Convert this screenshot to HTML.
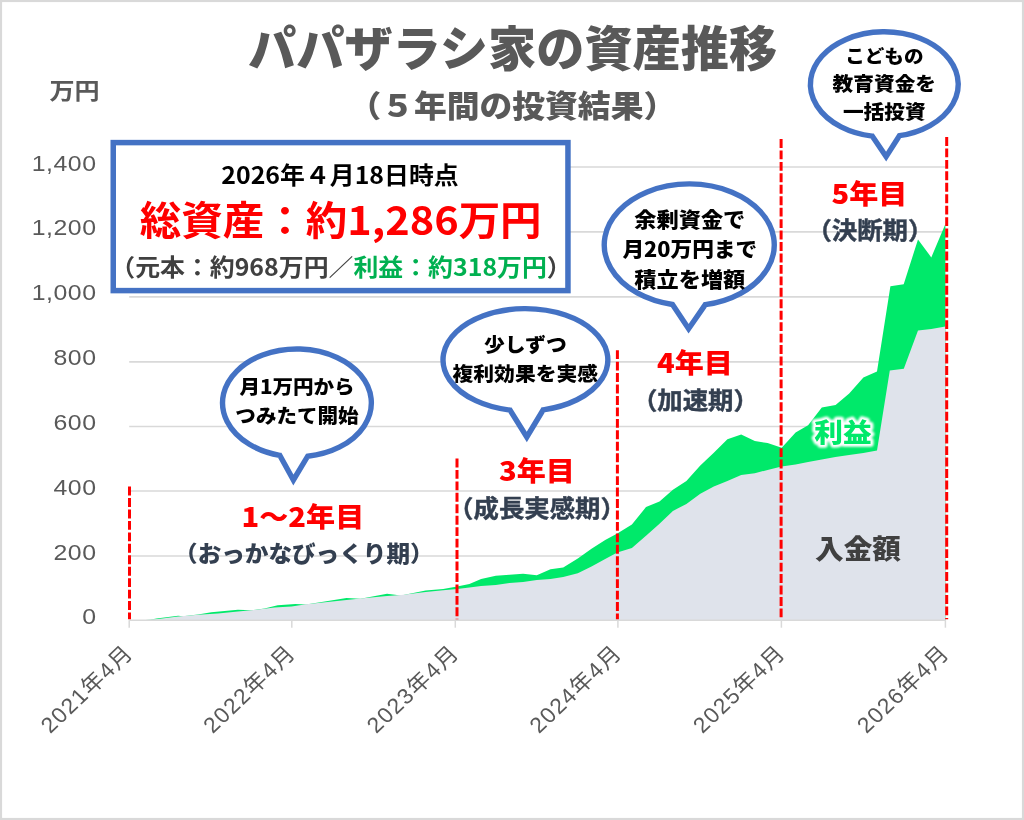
<!DOCTYPE html>
<html lang="ja"><head><meta charset="utf-8"><title>パパザラシ家の資産推移</title>
<style>
html,body{margin:0;padding:0;background:#fff;}
body{width:1024px;height:820px;overflow:hidden;}
svg{display:block;will-change:transform;}
text{font-family:"Noto Sans CJK JP","Liberation Sans",sans-serif;}
.ax{font-family:"Liberation Sans","Noto Sans CJK JP",sans-serif;}
.b{font-weight:700;}.k{font-weight:900;}
</style></head><body>
<svg width="1024" height="820" viewBox="0 0 1024 820">
<defs><filter id="glow" x="-30%" y="-30%" width="160%" height="160%"><feGaussianBlur stdDeviation="1.1"/></filter></defs>
<rect x="0" y="0" width="1024" height="820" fill="#D9D9D9"/>
<rect x="2.1" y="2.1" width="1019.8" height="815.8" fill="#fff"/>
<line x1="129.2" y1="556.0" x2="945.4" y2="556.0" stroke="#D9D9D9" stroke-width="1.7"/>
<line x1="129.2" y1="491.0" x2="945.4" y2="491.0" stroke="#D9D9D9" stroke-width="1.7"/>
<line x1="129.2" y1="426.5" x2="945.4" y2="426.5" stroke="#D9D9D9" stroke-width="1.7"/>
<line x1="129.2" y1="361.8" x2="945.4" y2="361.8" stroke="#D9D9D9" stroke-width="1.7"/>
<line x1="129.2" y1="296.8" x2="945.4" y2="296.8" stroke="#D9D9D9" stroke-width="1.7"/>
<line x1="129.2" y1="231.8" x2="945.4" y2="231.8" stroke="#D9D9D9" stroke-width="1.7"/>
<line x1="129.2" y1="167.0" x2="945.4" y2="167.0" stroke="#D9D9D9" stroke-width="1.7"/>
<polygon fill="#00E96A" points="141.6,620.2 150.0,619.7 156.5,618.6 178.1,615.7 183.0,616.2 198.0,614.5 211.3,612.3 237.9,609.8 251.2,610.3 264.5,608.5 277.7,605.2 295.5,603.9 306.1,604.4 346.5,598.1 360.6,598.8 387.0,593.7 401.0,595.5 425.6,590.6 443.2,589.0 457.1,586.5 469.4,584.0 481.1,579.1 495.8,575.8 509.5,574.8 523.1,573.8 536.8,575.2 550.5,569.3 563.2,567.4 577.8,558.6 591.5,548.8 605.2,540.0 617.3,533.5 631.9,524.5 646.0,507.1 659.5,501.4 672.9,489.7 686.4,480.9 700.3,465.6 713.8,452.8 727.4,439.2 741.2,434.6 754.8,441.0 767.6,443.0 781.7,447.7 795.6,432.4 808.1,425.2 821.8,407.6 835.6,404.9 849.2,393.5 863.4,377.5 877.0,371.6 890.4,286.3 903.7,284.3 918.0,239.4 931.3,257.4 945.4,224.1 945.4,620.2 141.6,620.2"/>
<polygon fill="#DFE3EB" points="141.6,620.2 158.2,619.0 178.1,616.5 198.0,614.8 218.0,613.5 237.9,611.5 251.2,610.3 274.4,607.4 291.6,606.4 306.1,604.3 346.5,599.9 360.6,598.5 387.0,596.0 401.0,595.1 425.6,592.0 443.2,590.2 457.1,588.9 469.4,587.5 481.1,585.9 495.8,585.0 509.5,583.0 523.1,582.0 536.8,580.1 550.5,579.1 563.2,577.1 577.8,573.2 591.5,566.4 605.2,559.0 617.3,552.5 631.9,548.0 646.0,535.7 659.5,523.7 672.9,510.9 686.4,504.0 700.3,493.8 713.8,486.6 727.4,480.9 741.2,475.1 754.8,473.3 767.6,469.9 781.5,466.6 795.6,464.5 808.1,461.9 821.8,459.4 835.4,457.0 849.1,455.1 863.4,452.9 877.0,450.6 889.8,370.6 903.8,368.7 918.0,330.4 931.3,329.1 945.4,326.5 945.4,620.2 141.6,620.2"/>
<line x1="129.2" y1="620.2" x2="945.4" y2="620.2" stroke="#D9D9D9" stroke-width="1.5"/>
<line x1="129.2" y1="620.2" x2="129.2" y2="627.7" stroke="#D9D9D9" stroke-width="1.5"/>
<line x1="291.8" y1="620.2" x2="291.8" y2="627.7" stroke="#D9D9D9" stroke-width="1.5"/>
<line x1="455.3" y1="620.2" x2="455.3" y2="627.7" stroke="#D9D9D9" stroke-width="1.5"/>
<line x1="617.9" y1="620.2" x2="617.9" y2="627.7" stroke="#D9D9D9" stroke-width="1.5"/>
<line x1="781.4" y1="620.2" x2="781.4" y2="627.7" stroke="#D9D9D9" stroke-width="1.5"/>
<line x1="945.4" y1="620.2" x2="945.4" y2="627.7" stroke="#D9D9D9" stroke-width="1.5"/>
<line x1="129.5" y1="486.6" x2="129.5" y2="619.3" stroke="#FF0000" stroke-width="3" stroke-dasharray="8.9 2.55"/>
<line x1="457" y1="458.5" x2="457" y2="619.3" stroke="#FF0000" stroke-width="3" stroke-dasharray="8.9 2.55"/>
<line x1="617.4" y1="350.2" x2="617.4" y2="619.3" stroke="#FF0000" stroke-width="3" stroke-dasharray="8.9 2.55"/>
<line x1="781.1" y1="139" x2="781.1" y2="619.3" stroke="#FF0000" stroke-width="3" stroke-dasharray="8.9 2.55"/>
<line x1="946.7" y1="137" x2="946.7" y2="619.3" stroke="#FF0000" stroke-width="3" stroke-dasharray="8.9 2.55"/>
<text class="ax" transform="translate(96.60,623.70) scale(1.1,1)" font-size="22.60" text-anchor="end" fill="#595959" letter-spacing="0.5">0</text>
<text class="ax" transform="translate(96.60,559.50) scale(1.1,1)" font-size="22.60" text-anchor="end" fill="#595959" letter-spacing="0.5">200</text>
<text class="ax" transform="translate(96.60,494.50) scale(1.1,1)" font-size="22.60" text-anchor="end" fill="#595959" letter-spacing="0.5">400</text>
<text class="ax" transform="translate(96.60,430.00) scale(1.1,1)" font-size="22.60" text-anchor="end" fill="#595959" letter-spacing="0.5">600</text>
<text class="ax" transform="translate(96.60,365.30) scale(1.1,1)" font-size="22.60" text-anchor="end" fill="#595959" letter-spacing="0.5">800</text>
<text class="ax" transform="translate(96.60,300.30) scale(1.1,1)" font-size="22.60" text-anchor="end" fill="#595959" letter-spacing="0.5">1,000</text>
<text class="ax" transform="translate(96.60,235.30) scale(1.1,1)" font-size="22.60" text-anchor="end" fill="#595959" letter-spacing="0.5">1,200</text>
<text class="ax" transform="translate(96.60,170.50) scale(1.1,1)" font-size="22.60" text-anchor="end" fill="#595959" letter-spacing="0.5">1,400</text>
<text class="b" transform="translate(74.50,98.60) scale(1.11,1)" font-size="22.60" text-anchor="middle" fill="#595959">万円</text>
<text class="ax" transform="translate(134.70,654.20) scale(1.055,1) rotate(-45)" font-size="21.80" text-anchor="end" fill="#595959" letter-spacing="1.3">2021年4月</text>
<text class="ax" transform="translate(297.30,654.20) scale(1.055,1) rotate(-45)" font-size="21.80" text-anchor="end" fill="#595959" letter-spacing="1.3">2022年4月</text>
<text class="ax" transform="translate(460.80,654.20) scale(1.055,1) rotate(-45)" font-size="21.80" text-anchor="end" fill="#595959" letter-spacing="1.3">2023年4月</text>
<text class="ax" transform="translate(623.40,654.20) scale(1.055,1) rotate(-45)" font-size="21.80" text-anchor="end" fill="#595959" letter-spacing="1.3">2024年4月</text>
<text class="ax" transform="translate(786.90,654.20) scale(1.055,1) rotate(-45)" font-size="21.80" text-anchor="end" fill="#595959" letter-spacing="1.3">2025年4月</text>
<text class="ax" transform="translate(950.90,654.20) scale(1.055,1) rotate(-45)" font-size="21.80" text-anchor="end" fill="#595959" letter-spacing="1.3">2026年4月</text>
<text class="k" transform="translate(512.60,66.30) scale(1.0,1)" font-size="48.20" text-anchor="middle" fill="#595959">パパザラシ家の資産推移</text>
<text class="k" transform="translate(512.30,116.80) scale(1.08,1)" font-size="30.37" text-anchor="middle" fill="#595959">（５年間の投資結果）</text>
<rect x="113.25" y="142.6" width="454.7" height="148" fill="#fff" stroke="#4472C4" stroke-width="5.5"/>
<text class="b" transform="translate(340.00,184.00) scale(1.055,1)" font-size="23.60" text-anchor="middle" fill="#000">2026年４月18日時点</text>
<text class="b" transform="translate(340.70,234.50) scale(1.055,1)" font-size="39.34" text-anchor="middle" fill="#FF0000">総資産：約1,286万円</text>
<text class="b" transform="translate(341.00,275.80) scale(1.055,1)" font-size="23.60" text-anchor="middle" fill="#404040">（元本：約968万円<tspan font-weight="400">／</tspan><tspan fill="#00B050">利益：約318万円</tspan>）</text>
<path d="M307.7,456.2 A74.4,53.9 0 1 0 279.7,455.3 L293.4,480 Z" fill="#fff" stroke="#4472C4" stroke-width="5.4" stroke-linejoin="miter" stroke-miterlimit="10"/>
<path d="M543.2,409.8 A82.4,51.2 0 1 0 510.0,410.1 L526.8,437 Z" fill="#fff" stroke="#4472C4" stroke-width="5.4" stroke-linejoin="miter" stroke-miterlimit="10"/>
<path d="M705.3,304.6 A85,60.9 0 1 0 672.5,304.5 L688.6,328.8 Z" fill="#fff" stroke="#4472C4" stroke-width="5.4" stroke-linejoin="miter" stroke-miterlimit="10"/>
<path d="M899.4,135.7 A73.9,52.5 0 1 0 872.2,136.1 L886.1,156.6 Z" fill="#fff" stroke="#4472C4" stroke-width="5.4" stroke-linejoin="miter" stroke-miterlimit="10"/>
<text class="k" transform="translate(297.00,394.30) scale(1.055,1)" font-size="19.48" text-anchor="middle" fill="#000">月1万円から</text>
<text class="k" transform="translate(297.00,422.80) scale(1.055,1)" font-size="19.48" text-anchor="middle" fill="#000">つみたて開始</text>
<text class="k" transform="translate(525.30,351.80) scale(1.055,1)" font-size="19.72" text-anchor="middle" fill="#000">少しずつ</text>
<text class="k" transform="translate(525.30,380.60) scale(1.055,1)" font-size="19.72" text-anchor="middle" fill="#000">複利効果を実感</text>
<text class="k" transform="translate(689.80,227.20) scale(1.055,1)" font-size="21.04" text-anchor="middle" fill="#000">余剰資金で</text>
<text class="k" transform="translate(689.80,257.00) scale(1.055,1)" font-size="20.57" text-anchor="middle" fill="#000">月20万円まで</text>
<text class="k" transform="translate(689.80,286.80) scale(1.055,1)" font-size="21.04" text-anchor="middle" fill="#000">積立を増額</text>
<text class="k" transform="translate(884.30,62.70) scale(1.055,1)" font-size="18.58" text-anchor="middle" fill="#000">こどもの</text>
<text class="k" transform="translate(884.30,91.00) scale(1.055,1)" font-size="19.62" text-anchor="middle" fill="#000">教育資金を</text>
<text class="k" transform="translate(884.30,119.00) scale(1.055,1)" font-size="19.62" text-anchor="middle" fill="#000">一括投資</text>
<text class="k" transform="translate(302.90,526.80) scale(1.075,1)" font-size="27.07" text-anchor="middle" fill="#FF0000">1〜2年目</text>
<text class="k" transform="translate(303.80,561.90) scale(1.055,1)" font-size="22.37" text-anchor="middle" fill="#333F50">（おっかなびっくり期）</text>
<text class="k" transform="translate(536.90,480.80) scale(1.075,1)" font-size="27.07" text-anchor="middle" fill="#FF0000">3年目</text>
<text class="b" transform="translate(537.00,517.00) scale(1.055,1)" font-size="24.08" text-anchor="middle" fill="#333F50" stroke="#333F50" stroke-width="0.45">（成長実感期）</text>
<text class="k" transform="translate(694.90,372.90) scale(1.075,1)" font-size="27.07" text-anchor="middle" fill="#FF0000">4年目</text>
<text class="b" transform="translate(695.40,408.60) scale(1.055,1)" font-size="24.08" text-anchor="middle" fill="#333F50" stroke="#333F50" stroke-width="0.45">（加速期）</text>
<text class="k" transform="translate(869.50,203.60) scale(1.075,1)" font-size="27.07" text-anchor="middle" fill="#FF0000">5年目</text>
<text class="b" transform="translate(869.90,239.00) scale(1.055,1)" font-size="24.08" text-anchor="middle" fill="#333F50" stroke="#333F50" stroke-width="0.45">（決断期）</text>
<text class="k" transform="translate(843.00,442.20) scale(1.09,1)" font-size="26.33" text-anchor="middle" fill="#fff" stroke="#fff" stroke-width="5.6" stroke-linejoin="round" filter="url(#glow)">利益</text>
<text class="k" transform="translate(843.00,442.20) scale(1.09,1)" font-size="26.33" text-anchor="middle" fill="#00E96A">利益</text>
<text class="k" transform="translate(858.00,558.60) scale(1.055,1)" font-size="27.11" text-anchor="middle" fill="#404040">入金額</text>
</svg></body></html>
